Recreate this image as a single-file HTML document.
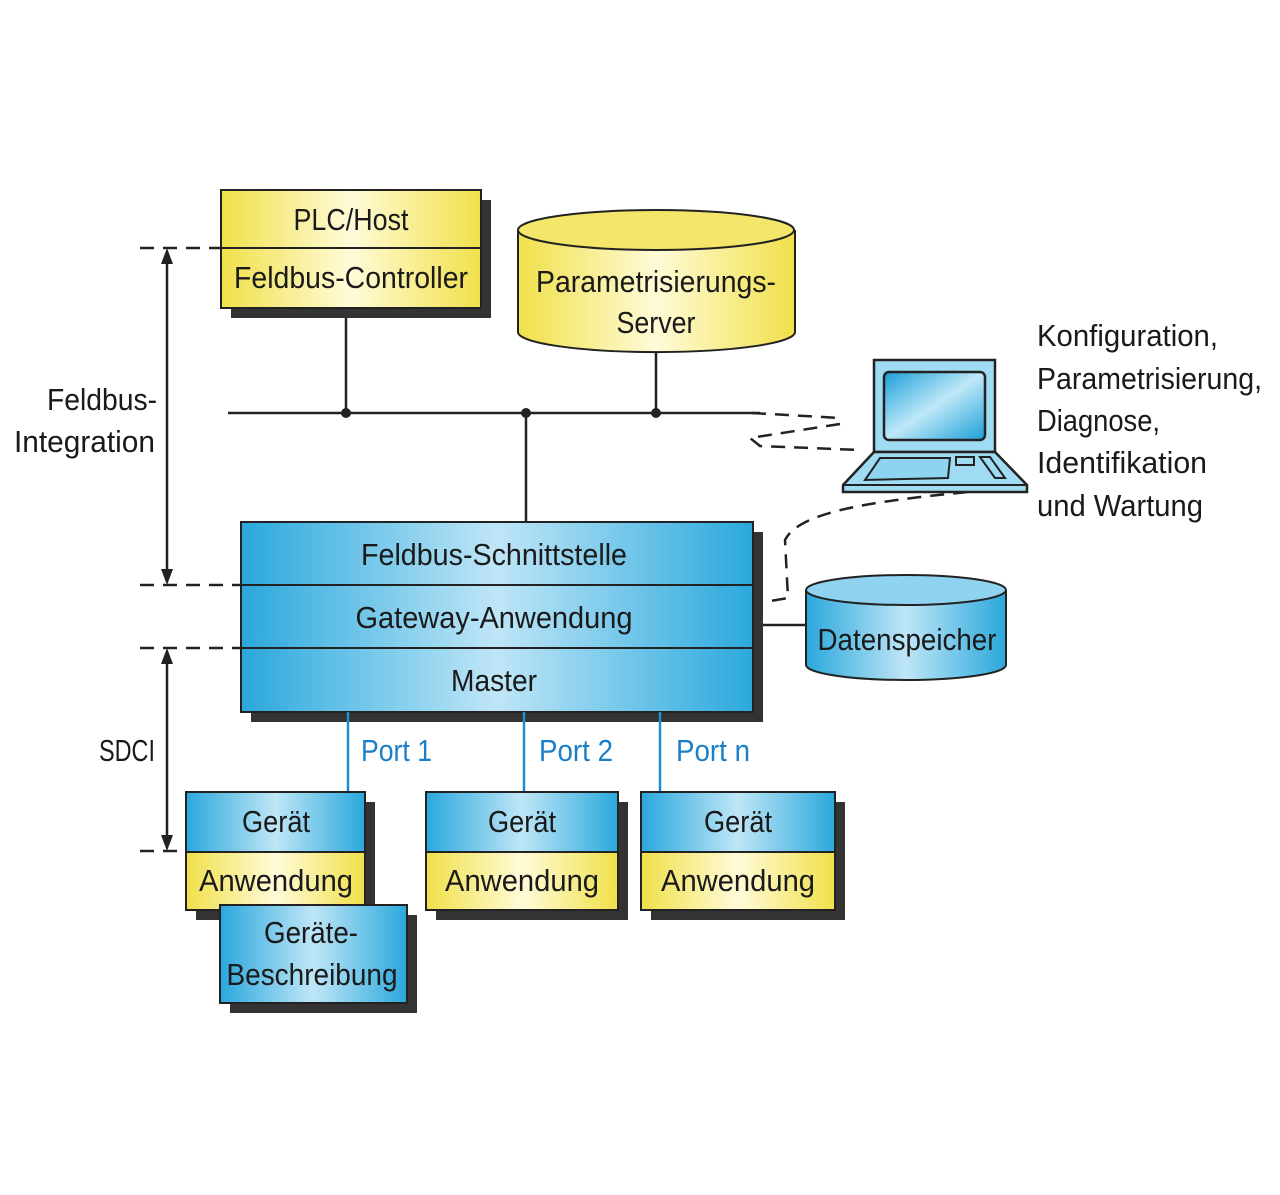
<!DOCTYPE html>
<html><head><meta charset="utf-8"><style>
body{margin:0;background:#fff}
svg text{font-family:"Liberation Sans",sans-serif;fill:#1a1a1a}
</style></head><body>
<svg width="1280" height="1190" viewBox="0 0 1280 1190" xmlns="http://www.w3.org/2000/svg">
<defs>
<linearGradient id="b" x1="0" y1="0" x2="1" y2="0">
<stop offset="0" stop-color="#2aa8dc"/><stop offset="0.5" stop-color="#bfe6f7"/><stop offset="1" stop-color="#2aa8dc"/></linearGradient>
<linearGradient id="y" x1="0" y1="0" x2="1" y2="0">
<stop offset="0" stop-color="#f0e04a"/><stop offset="0.5" stop-color="#fffbd8"/><stop offset="1" stop-color="#f0e04a"/></linearGradient>
<linearGradient id="s" x1="0" y1="0" x2="1" y2="1">
<stop offset="0" stop-color="#1a9fd8"/><stop offset="0.5" stop-color="#bfe8f8"/><stop offset="1" stop-color="#1a9fd8"/></linearGradient>
</defs>
<g stroke="#222" stroke-width="2.5" fill="none">
<g stroke-dasharray="14,9">
<line x1="140" y1="248" x2="220" y2="248"/>
<line x1="140" y1="585" x2="241" y2="585"/>
<line x1="140" y1="648" x2="241" y2="648"/>
<line x1="140" y1="851" x2="185" y2="851"/>
<path d="M752 413 L840 418 M840 424 L750 438 L760 446 L860 450"/>
<path d="M990 490 C880 500 800 510 785 540 L788 598 L765 602"/>
</g>
<line x1="167" y1="255" x2="167" y2="578"/>
<line x1="167" y1="655" x2="167" y2="844"/>
<line x1="228" y1="413" x2="760" y2="413"/>
<line x1="346" y1="308" x2="346" y2="413"/>
<line x1="656" y1="352" x2="656" y2="413"/>
<line x1="526" y1="413" x2="526" y2="522"/>
<line x1="753" y1="625" x2="806" y2="625"/>
</g>
<g fill="#222">
<path d="M167 248 l-6 16 h12z M167 585 l-6 -16 h12z M167 648 l-6 16 h12z M167 851 l-6 -16 h12z"/>
<circle cx="346" cy="413" r="5"/><circle cx="526" cy="413" r="5"/><circle cx="656" cy="413" r="5"/>
</g>
<rect x="231" y="200" width="260" height="118" fill="#333"/>
<rect x="221" y="190" width="260" height="118" fill="url(#y)" stroke="#222" stroke-width="2"/>
<line x1="221" y1="248" x2="481" y2="248" stroke="#222" stroke-width="2"/>
<g font-size="31" text-anchor="middle">
<text x="351" y="230" textLength="115" lengthAdjust="spacingAndGlyphs">PLC/Host</text>
<text x="351" y="288" textLength="234" lengthAdjust="spacingAndGlyphs">Feldbus-Controller</text>
</g>
<path d="M518 230 V332 A138 20 0 0 0 795 332 V230" fill="url(#y)" stroke="#222" stroke-width="2"/>
<ellipse cx="656" cy="230" rx="138" ry="20" fill="#f4e66a" stroke="#222" stroke-width="2"/>
<g font-size="31" text-anchor="middle">
<text x="656" y="292" textLength="240" lengthAdjust="spacingAndGlyphs">Parametrisierungs-</text>
<text x="656" y="333" textLength="79" lengthAdjust="spacingAndGlyphs">Server</text>
</g>
<rect x="251" y="532" width="512" height="190" fill="#333"/>
<rect x="241" y="522" width="512" height="190" fill="url(#b)" stroke="#222" stroke-width="2"/>
<line x1="241" y1="585" x2="753" y2="585" stroke="#222" stroke-width="2"/>
<line x1="241" y1="648" x2="753" y2="648" stroke="#222" stroke-width="2"/>
<g font-size="31" text-anchor="middle">
<text x="494" y="565" textLength="266" lengthAdjust="spacingAndGlyphs">Feldbus-Schnittstelle</text>
<text x="494" y="628" textLength="277" lengthAdjust="spacingAndGlyphs">Gateway-Anwendung</text>
<text x="494" y="691" textLength="86" lengthAdjust="spacingAndGlyphs">Master</text>
</g>
<path d="M806 590 V665 A100 15 0 0 0 1006 665 V590" fill="url(#b)" stroke="#222" stroke-width="2"/>
<ellipse cx="906" cy="590" rx="100" ry="15" fill="#8fd3f0" stroke="#222" stroke-width="2"/>
<text x="907" y="650" font-size="31" text-anchor="middle" textLength="179" lengthAdjust="spacingAndGlyphs">Datenspeicher</text>
<rect x="874" y="360" width="121" height="92" fill="#9fdcf3" stroke="#222" stroke-width="2.5"/>
<rect x="884" y="372" width="101" height="68" rx="5" fill="url(#s)" stroke="#222" stroke-width="2.5"/>
<path d="M874 452 H995 L1027 485 V492 H843 V485 Z" fill="#9fdcf3" stroke="#222" stroke-width="2.5"/>
<line x1="843" y1="485" x2="1027" y2="485" stroke="#222" stroke-width="2"/>
<path d="M865 480 L880 458 H950 L948 478 Z" fill="#8ed4f0" stroke="#222" stroke-width="2"/>
<rect x="956" y="457" width="18" height="8" fill="none" stroke="#222" stroke-width="2"/>
<path d="M980 457 H990 L1005 478 H995 Z" fill="none" stroke="#222" stroke-width="2"/>
<g font-size="31">
<text x="1037" y="346" textLength="181" lengthAdjust="spacingAndGlyphs">Konfiguration,</text>
<text x="1037" y="389" textLength="225" lengthAdjust="spacingAndGlyphs">Parametrisierung,</text>
<text x="1037" y="431" textLength="123" lengthAdjust="spacingAndGlyphs">Diagnose,</text>
<text x="1037" y="473" textLength="170" lengthAdjust="spacingAndGlyphs">Identifikation</text>
<text x="1037" y="516" textLength="166" lengthAdjust="spacingAndGlyphs">und Wartung</text>
<text x="47" y="410" textLength="110" lengthAdjust="spacingAndGlyphs">Feldbus-</text>
<text x="14" y="452" textLength="141" lengthAdjust="spacingAndGlyphs">Integration</text>
<text x="99" y="761" textLength="56" lengthAdjust="spacingAndGlyphs">SDCI</text>
</g>
<g stroke="#1b8fd0" stroke-width="2.5">
<line x1="348" y1="712" x2="348" y2="792"/><line x1="524" y1="712" x2="524" y2="792"/><line x1="660" y1="712" x2="660" y2="792"/>
</g>
<g font-size="31">
<text x="361" y="761" style="fill:#1b7fc8" textLength="71" lengthAdjust="spacingAndGlyphs">Port 1</text>
<text x="539" y="761" style="fill:#1b7fc8" textLength="74" lengthAdjust="spacingAndGlyphs">Port 2</text>
<text x="676" y="761" style="fill:#1b7fc8" textLength="74" lengthAdjust="spacingAndGlyphs">Port n</text>
</g>
<g font-size="31" text-anchor="middle">
<rect x="196" y="802" width="179" height="118" fill="#333"/>
<rect x="186" y="792" width="179" height="60" fill="url(#b)" stroke="#222" stroke-width="2"/>
<rect x="186" y="852" width="179" height="58" fill="url(#y)" stroke="#222" stroke-width="2"/>
<text x="276" y="832" textLength="68" lengthAdjust="spacingAndGlyphs">Gerät</text>
<text x="276" y="891" textLength="154" lengthAdjust="spacingAndGlyphs">Anwendung</text>
<rect x="436" y="802" width="192" height="118" fill="#333"/>
<rect x="426" y="792" width="192" height="60" fill="url(#b)" stroke="#222" stroke-width="2"/>
<rect x="426" y="852" width="192" height="58" fill="url(#y)" stroke="#222" stroke-width="2"/>
<text x="522" y="832" textLength="68" lengthAdjust="spacingAndGlyphs">Gerät</text>
<text x="522" y="891" textLength="154" lengthAdjust="spacingAndGlyphs">Anwendung</text>
<rect x="651" y="802" width="194" height="118" fill="#333"/>
<rect x="641" y="792" width="194" height="60" fill="url(#b)" stroke="#222" stroke-width="2"/>
<rect x="641" y="852" width="194" height="58" fill="url(#y)" stroke="#222" stroke-width="2"/>
<text x="738" y="832" textLength="68" lengthAdjust="spacingAndGlyphs">Gerät</text>
<text x="738" y="891" textLength="154" lengthAdjust="spacingAndGlyphs">Anwendung</text>
<rect x="230" y="915" width="187" height="98" fill="#333"/>
<rect x="220" y="905" width="187" height="98" fill="url(#b)" stroke="#222" stroke-width="2"/>
<text x="311" y="943" textLength="94" lengthAdjust="spacingAndGlyphs">Geräte-</text>
<text x="312" y="985" textLength="171" lengthAdjust="spacingAndGlyphs">Beschreibung</text>
</g>
</svg>
</body></html>
